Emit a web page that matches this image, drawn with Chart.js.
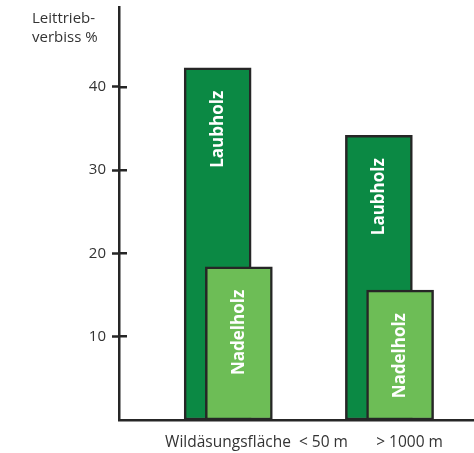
<!DOCTYPE html>
<html>
<head>
<meta charset="utf-8">
<title>Leittriebverbiss</title>
<script src="https://cdn.jsdelivr.net/npm/chart.js@4/dist/chart.umd.min.js"></script>
<style>
  html, body { margin: 0; padding: 0; background: #ffffff; }
  #wrap { width: 474px; height: 453px; position: relative; }
</style>
</head>
<body>
<div id="wrap"><canvas id="chart"></canvas></div>
<script>
// Leader-shoot browsing (%) by distance to the wildlife feeding area
const GROUPS = ['< 50 m', '> 1000 m'];
const SERIES = ['Laubholz', 'Nadelholz'];
const LAUBHOLZ = [42.3, 34.2];
const NADELHOLZ = [18.4, 15.6];
const Y_TICKS = [10, 20, 30, 40];
const AXIS_NAME = 'Wildäsungsfläche';
const X_TICK_LABELS = [AXIS_NAME + '  ' + GROUPS[0], GROUPS[1]];
const Y_TITLE = ['Leittrieb-', 'verbiss %'];

const INK = '#262626';
const TEXT = '#333333';
const FAMILY = "'Open Sans', sans-serif";
const COLORS = ['#0b8944', '#6dbd56'];

// x range of the group axis (group index units) and the sideways step of
// the front (Nadelholz) bars, which sit on their own hidden, shifted axis
const X_MIN = -0.612;
const X_MAX = 1.59;
const FRONT_SHIFT = 0.1315;
// where the two bottom text labels sit along the x axis
const X_TICK_AT = [0.241, 1.19];

const toPoints = vals => vals.map((v, i) => ({ x: i, y: v }));
const alignPx = (p, w) => Math.round(p - w / 2) + w / 2;
const noPadding = s => { s.paddingTop = 0; s.paddingBottom = 0; s.paddingLeft = 0; s.paddingRight = 0; };

// rotated white series names inside every bar
const barLabels = {
  id: 'barLabels',
  afterDatasetsDraw(chart) {
    const ctx = chart.ctx;
    ctx.save();
    ctx.fillStyle = '#ffffff';
    ctx.font = 'bold 17px ' + FAMILY;
    ctx.textAlign = 'right';
    ctx.textBaseline = 'middle';
    chart.data.datasets.forEach((ds, di) => {
      chart.getDatasetMeta(di).data.forEach(bar => {
        ctx.save();
        ctx.translate(bar.x, bar.y + 23);
        ctx.rotate(-Math.PI / 2);
        ctx.fillText(ds.label, 0, 0);
        ctx.restore();
      });
    });
    ctx.restore();
  }
};

// tick marks that cross the y axis into the plot
const innerTicks = {
  id: 'innerTicks',
  afterDatasetsDraw(chart) {
    const ctx = chart.ctx;
    const ys = chart.scales.y;
    const left = chart.chartArea.left;
    ctx.save();
    ctx.strokeStyle = INK;
    ctx.lineWidth = 2.5;
    ctx.beginPath();
    ys.ticks.forEach(t => {
      const py = alignPx(ys.getPixelForValue(t.value), 2.5);
      ctx.moveTo(left, py);
      ctx.lineTo(left + 8, py);
    });
    ctx.stroke();
    ctx.restore();
  }
};

// two-line y axis caption at the top left
const yCaption = {
  id: 'yCaption',
  afterDraw(chart) {
    const ctx = chart.ctx;
    ctx.save();
    ctx.fillStyle = TEXT;
    ctx.font = '15px ' + FAMILY;
    ctx.textAlign = 'left';
    ctx.textBaseline = 'alphabetic';
    ctx.fillText(Y_TITLE[0], 32, 23);
    ctx.fillText(Y_TITLE[1], 32, 42);
    ctx.restore();
  }
};

new Chart(document.getElementById('chart'), {
  type: 'bar',
  data: {
    datasets: [
      { label: SERIES[0], data: toPoints(LAUBHOLZ), backgroundColor: COLORS[0], xAxisID: 'x', order: 1 },
      { label: SERIES[1], data: toPoints(NADELHOLZ), backgroundColor: COLORS[1], xAxisID: 'xFront', order: 0 }
    ]
  },
  plugins: [barLabels, innerTicks, yCaption],
  options: {
    responsive: true,
    maintainAspectRatio: false,
    animation: false,
    devicePixelRatio: 1,
    layout: { padding: { top: 7, right: 0, bottom: 0, left: 0 } },
    plugins: { legend: { display: false }, tooltip: { enabled: false } },
    datasets: {
      bar: {
        grouped: false,
        barThickness: 67,
        borderWidth: 2.5,
        borderColor: INK,
        borderSkipped: false
      }
    },
    scales: {
      x: {
        type: 'linear',
        min: X_MIN,
        max: X_MAX,
        offset: false,
        grid: { display: false, drawTicks: false },
        border: { display: true, color: INK, width: 2.5 },
        afterBuildTicks: s => { s.ticks = X_TICK_AT.map(v => ({ value: v })); },
        afterFit: s => { s.height = 33; noPadding(s); },
        ticks: {
          callback: (v, i) => X_TICK_LABELS[i],
          autoSkip: false,
          maxRotation: 0,
          padding: 13,
          color: TEXT,
          font: { family: FAMILY, size: 15.5 }
        }
      },
      xFront: {
        type: 'linear',
        display: false,
        min: X_MIN - FRONT_SHIFT,
        max: X_MAX - FRONT_SHIFT,
        offset: false
      },
      y: {
        min: 0,
        max: 49.6,
        grid: { drawOnChartArea: false, drawTicks: true, tickLength: 7, tickWidth: 2.5, tickColor: INK },
        border: { display: true, color: INK, width: 2.5 },
        afterBuildTicks: s => { s.ticks = Y_TICKS.map(v => ({ value: v })); },
        afterFit: s => { s.width = 119; noPadding(s); },
        ticks: {
          padding: 6,
          color: TEXT,
          font: { family: FAMILY, size: 15 }
        }
      }
    }
  }
});
</script>
</body>
</html>
